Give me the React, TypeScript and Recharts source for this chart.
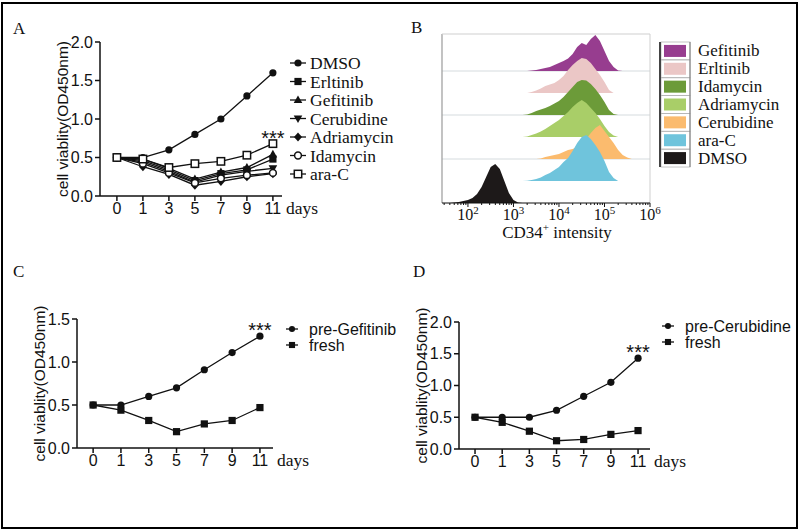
import React from 'react';
import {
  LineChart, Line, XAxis, YAxis, Legend, LabelList, ComposedChart, Area,
  CartesianGrid, ReferenceLine,
} from 'recharts';

const SANS = '"Liberation Sans", Arial, sans-serif';
const SERIF = '"Liberation Serif", "Times New Roman", serif';
const INK = '#111';

// ---------- shared x categories ----------
const DAYS = ['0', '1', '3', '5', '7', '9', '11'];
const DAY_IDX = [0, 1, 2, 3, 4, 5, 6];

// ---------- Panel A ----------
const A_DMSO = [0.5, 0.5, 0.6, 0.8, 1.0, 1.3, 1.6];
const A_ERL = [0.5, 0.46, 0.34, 0.2, 0.29, 0.34, 0.48];
const A_GEF = [0.5, 0.48, 0.36, 0.22, 0.31, 0.37, 0.54];
const A_CER = [0.5, 0.44, 0.32, 0.18, 0.27, 0.32, 0.36];
const A_ADR = [0.5, 0.38, 0.28, 0.14, 0.19, 0.25, 0.29];
const A_IDA = [0.5, 0.42, 0.3, 0.17, 0.23, 0.27, 0.3];
const A_ARAC = [0.5, 0.48, 0.37, 0.42, 0.45, 0.53, 0.68];
const A_NAMES = ['DMSO', 'Erltinib', 'Gefitinib', 'Cerubidine', 'Adriamycin', 'Idamycin', 'ara-C'];
const A_VALUES = [A_DMSO, A_ERL, A_GEF, A_CER, A_ADR, A_IDA, A_ARAC];
const A_SHAPES = ['circle', 'square', 'triangle', 'triangleDown', 'diamond', 'circleOpen', 'squareOpen'];
const A_YTICKS = [0, 0.5, 1, 1.5, 2];

// ---------- Panel C ----------
const C_PRE = [0.5, 0.5, 0.6, 0.7, 0.91, 1.11, 1.3];
const C_FRESH = [0.5, 0.44, 0.32, 0.19, 0.28, 0.32, 0.47];
const C_NAMES = ['pre-Gefitinib', 'fresh'];
const C_YTICKS = [0, 0.5, 1, 1.5];

// ---------- Panel D ----------
const D_PRE = [0.5, 0.5, 0.5, 0.61, 0.83, 1.05, 1.43];
const D_FRESH = [0.5, 0.42, 0.28, 0.13, 0.15, 0.23, 0.29];
const D_NAMES = ['pre-Cerubidine', 'fresh'];
const D_YTICKS = [0, 0.5, 1, 1.5, 2];

// ---------- Panel B (flow histograms, log10 intensity) ----------
const LOG_X = [1.6, 1.7, 1.8, 1.9, 2.0, 2.1, 2.2, 2.3, 2.4, 2.5, 2.6, 2.7, 2.8, 2.9, 3.0, 3.1, 3.2, 3.3, 3.4, 3.5,
  3.6, 3.7, 3.8, 3.9, 4.0, 4.1, 4.2, 4.3, 4.4, 4.5, 4.6, 4.7, 4.8, 4.9, 5.0, 5.1, 5.2, 5.3, 5.4, 5.5, 5.6];
const H_DMSO = [0, 0.5, 1, 2, 3, 5, 9, 16, 26, 36, 39, 34, 22, 10, 3, 0.5, 0, 0, 0, 0,
  0, 0, 0, 0, 0, 0, 0, 0, 0, 0, 0, 0, 0, 0, 0, 0, 0, 0, 0, 0, 0];
const H_ARAC = [0, 0, 0, 0, 0, 0, 0, 0, 0, 0, 0, 0, 0, 0, 0, 0, 0, 0.3, 1, 2,
  3.5, 6, 8, 11, 14, 19, 23, 30, 38, 44, 46, 42, 36, 29, 20, 9, 3, 0, 0, 0, 0];
const H_CER = [0, 0, 0, 0, 0, 0, 0, 0, 0, 0, 0, 0, 0, 0, 0, 0, 0, 0, 0, 0,
  0.5, 2, 3, 4, 5, 7, 9, 10, 12, 14, 20, 26, 31, 34, 28, 22, 16, 9, 4, 1.5, 0];
const H_ADR = [0, 0, 0, 0, 0, 0, 0, 0, 0, 0, 0, 0, 0, 0, 0, 0, 0, 0.5, 2, 3.5,
  5.5, 8, 11, 14, 17, 21, 25, 30, 34, 37, 34, 29, 24, 18, 11, 5, 1.5, 0, 0, 0, 0];
const H_IDA = [0, 0, 0, 0, 0, 0, 0, 0, 0, 0, 0, 0, 0, 0, 0, 0, 0, 0.5, 2, 4,
  5.5, 7, 9, 11.5, 14, 18, 23, 28, 33, 35, 34.5, 31, 26, 20, 13, 5, 1, 0, 0, 0, 0];
const H_ERL = [0, 0, 0, 0, 0, 0, 0, 0, 0, 0, 0, 0, 0, 0, 0, 0, 0, 0, 1, 2.5,
  4.5, 7, 8.5, 10, 13, 17, 23, 28, 32, 35, 34, 30, 24, 18, 11, 3, 0, 0, 0, 0, 0];
const H_GEF = [0, 0, 0, 0, 0, 0, 0, 0, 0, 0, 0, 0, 0, 0, 0, 0, 0, 0, 0.5, 1,
  2, 3, 4, 6, 8, 10, 12.5, 17, 24, 28, 26, 32, 36, 30, 20, 10, 4, 0.5, 0, 0, 0];
// bottom -> top
const B_NAMES = ['DMSO', 'ara-C', 'Cerubidine', 'Adriamycin', 'Idamycin', 'Erltinib', 'Gefitinib'];
const B_HEIGHTS = [H_DMSO, H_ARAC, H_CER, H_ADR, H_IDA, H_ERL, H_GEF];
const B_COLORS = ['#1d1919', '#6fc4dc', '#fbbb6e', '#a9ce68', '#6c9b39', '#ebc7c6', '#973d8f'];

const RIDGE_STEP = 22;
const B_TOP = 169;
const B_XMIN = 1.43;
const B_XMAX = 6;

// ---------- data tables ----------
const aData = DAY_IDX.map((i) => {
  const row: any = { idx: i };
  A_NAMES.forEach((n, k) => { row[n] = A_VALUES[k][i]; });
  return row;
});
const cData = DAY_IDX.map((i) => ({ idx: i, [C_NAMES[0]]: C_PRE[i], [C_NAMES[1]]: C_FRESH[i] }));
const dData = DAY_IDX.map((i) => ({ idx: i, [D_NAMES[0]]: D_PRE[i], [D_NAMES[1]]: D_FRESH[i] }));
const ridgeData = LOG_X.map((x, i) => {
  const row: any = { x };
  B_NAMES.forEach((n, k) => { row[n] = [k * RIDGE_STEP, k * RIDGE_STEP + B_HEIGHTS[k][i]]; });
  return row;
});
const RIDGE_BASES = B_NAMES.slice(1).map((_, k) => (k + 1) * RIDGE_STEP);
const B_TICKS: number[] = [];
for (let d = 1; d <= 5; d++) {
  for (let k = 1; k <= 9; k++) {
    const v = d + Math.log10(k);
    if (v >= B_XMIN && v <= B_XMAX) B_TICKS.push(v);
  }
}
B_TICKS.push(6);

// ---------- markers ----------
function marker(shape: string, cx: number, cy: number, key?: any, s = 1) {
  switch (shape) {
    case 'circle':
      return <circle key={key} cx={cx} cy={cy} r={3.6 * s} fill={INK} />;
    case 'square':
      return <rect key={key} x={cx - 3.6 * s} y={cy - 3.6 * s} width={7.2 * s} height={7.2 * s} fill={INK} />;
    case 'triangle':
      return <polygon key={key} points={`${cx},${cy - 4.6 * s} ${cx + 4.3 * s},${cy + 3 * s} ${cx - 4.3 * s},${cy + 3 * s}`} fill={INK} />;
    case 'triangleDown':
      return <polygon key={key} points={`${cx},${cy + 4.6 * s} ${cx + 4.3 * s},${cy - 3 * s} ${cx - 4.3 * s},${cy - 3 * s}`} fill={INK} />;
    case 'diamond':
      return <polygon key={key} points={`${cx},${cy - 4.6 * s} ${cx + 4 * s},${cy} ${cx},${cy + 4.6 * s} ${cx - 4 * s},${cy}`} fill={INK} />;
    case 'circleOpen':
      return <circle key={key} cx={cx} cy={cy} r={3.4 * s} fill="#fff" stroke={INK} strokeWidth={1.5} />;
    case 'squareOpen':
      return <rect key={key} x={cx - 3.7 * s} y={cy - 3.7 * s} width={7.4 * s} height={7.4 * s} fill="#fff" stroke={INK} strokeWidth={1.5} />;
    default:
      return null;
  }
}
const dotOf = (shape: string) => (p: any) => marker(shape, p.cx, p.cy, `${shape}-${p.index}`);

// ---------- axis helpers ----------
const tickStyle = { fill: INK, fontSize: 16, fontFamily: SANS };
const axisLineStyle = { stroke: INK, strokeWidth: 1.5 };
const tickLineStyle = { stroke: INK, strokeWidth: 1.5 };

const yLabel = (props: any) => {
  const vb = props.viewBox || {};
  const x = vb.x + vb.width - 38;
  const y = vb.y + vb.height / 2;
  return (
    <text x={x} y={y} transform={`rotate(-90 ${x} ${y})`} textAnchor="middle" dominantBaseline="central"
      fontFamily={SANS} fontSize={15.5} fill={INK}>cell viablity(OD450nm)</text>
  );
};
const daysLabel = (props: any) => {
  const vb = props.viewBox || {};
  return (
    <text x={vb.x + vb.width + 4} y={vb.y + 18} fontFamily={SERIF} fontSize={17.5} fill={INK}>days</text>
  );
};
const starContent = (p: any) => {
  if (p.index !== DAY_IDX.length - 1) return null;
  const vb = p.viewBox || {};
  const x = vb.x ?? p.x;
  const y = vb.y ?? p.y;
  return (
    <text key="stars" x={x} y={y + 1} textAnchor="middle" fontFamily={SANS} fontSize={20} fill={INK}>***</text>
  );
};

// ---------- legends ----------
const legendA = () => (
  <svg width={120} height={140} style={{ display: 'block' }}>
    {A_NAMES.map((name, i) => {
      const cy = 11 + 18.5 * i;
      return (
        <g key={name}>
          <line x1={2} x2={18} y1={cy} y2={cy} stroke={INK} strokeWidth={1.3} />
          {marker(A_SHAPES[i], 10, cy)}
          <text x={22} y={cy + 6} fontFamily={SERIF} fontSize={17.5} fill={INK}>{name}</text>
        </g>
      );
    })}
  </svg>
);
const legendTwo = (names: string[], spacing: number) => () => {
  const shapes = ['circle', 'square'];
  return (
    <svg width={150} height={40} style={{ display: 'block' }}>
      {names.map((name, i) => {
        const cy = 11 + spacing * i;
        return (
          <g key={name}>
            <line x1={6} x2={18} y1={cy} y2={cy} stroke={INK} strokeWidth={1.3} />
            {marker(shapes[i], 12, cy, undefined, 0.85)}
            <text x={29} y={cy + 5.5} fontFamily={SANS} fontSize={16} fill={INK}>{name}</text>
          </g>
        );
      })}
    </svg>
  );
};
const legendB = () => {
  const rowH = 17.86;
  const names = [...B_NAMES].reverse();
  const colors = [...B_COLORS].reverse();
  const n = names.length;
  return (
    <svg width={140} height={132} style={{ display: 'block' }}>
      {names.map((name, i) => {
        const top = 2 + rowH * i;
        const cy = top + rowH / 2;
        return (
          <g key={name}>
            <rect x={4} y={top} width={29} height={rowH} fill="none" stroke="#b5b5b5" strokeWidth={0.8} />
            <rect x={7} y={cy - 6} width={22} height={12} fill={colors[i]} />
            <text x={41} y={cy + 5.5} fontFamily={SERIF} fontSize={17} fill={INK}>{name}</text>
          </g>
        );
      })}
      <line x1={3} x2={3} y1={2} y2={2 + rowH * n} stroke="#444" strokeWidth={2} />
      <line x1={33} x2={33} y1={2} y2={2 + rowH * n} stroke="#777" strokeWidth={1} />
    </svg>
  );
};

// ---------- panel B axis ----------
const BTick = (props: any) => {
  const { x, y, payload } = props;
  const v = payload.value;
  const major = Math.abs(v - Math.round(v)) < 1e-6;
  return (
    <g>
      <line x1={x} x2={x} y1={y} y2={y + (major ? 4 : 2)} stroke={INK} strokeWidth={1} />
      {major && (
        <text x={x} y={y + 17} textAnchor="middle" fontFamily={SERIF} fontSize={16} fill={INK}>
          10<tspan dy={-6} fontSize={11}>{Math.round(v)}</tspan>
        </text>
      )}
    </g>
  );
};
const bXLabel = (props: any) => {
  const vb = props.viewBox || {};
  return (
    <text x={vb.x + vb.width / 2 + 11} y={vb.y + 35} textAnchor="middle" fontFamily={SERIF} fontSize={17} fill={INK}>
      CD34<tspan dy={-7} fontSize={11}>+</tspan><tspan dy={7}> intensity</tspan>
    </text>
  );
};

// ---------- charts ----------
function PanelA() {
  return (
    <LineChart width={400} height={260} data={aData} margin={{ top: 42, right: 118, bottom: 40, left: 40 }}>
      <XAxis type="number" dataKey="idx" domain={[-0.65, 6.35]} allowDataOverflow ticks={DAY_IDX} interval={0}
        tickFormatter={(i: number) => DAYS[i]} height={24} tick={tickStyle} tickSize={5}
        axisLine={axisLineStyle} tickLine={tickLineStyle} label={{ content: daysLabel }} />
      <YAxis type="number" domain={[0, 2]} ticks={A_YTICKS} interval={0} width={60}
        tickFormatter={(v: number) => v.toFixed(1)} tick={tickStyle} tickSize={5}
        axisLine={axisLineStyle} tickLine={tickLineStyle} label={{ content: yLabel }} />
      {A_NAMES.map((n, k) => (
        <Line key={n} dataKey={n} name={n} type="linear" stroke={INK} strokeWidth={1.3}
          dot={dotOf(A_SHAPES[k])} activeDot={false} isAnimationActive={false}>
          {n === 'ara-C' && <LabelList dataKey={n} content={starContent} />}
        </Line>
      ))}
      <Legend layout="vertical" align="center" verticalAlign="middle" content={legendA}
        wrapperStyle={{ position: 'absolute', left: 288, top: 52, width: 120, height: 140 }} />
    </LineChart>
  );
}

function PanelTwo({ data, names, yMax, yTicks, xDomain, margin, yWidth, legendPos, spacing }: any) {
  return (
    <LineChart width={400} height={240} data={data} margin={margin}>
      <XAxis type="number" dataKey="idx" domain={xDomain} allowDataOverflow ticks={DAY_IDX} interval={0}
        tickFormatter={(i: number) => DAYS[i]} height={24} tick={tickStyle} tickSize={5}
        axisLine={axisLineStyle} tickLine={tickLineStyle} label={{ content: daysLabel }} />
      <YAxis type="number" domain={[0, yMax]} ticks={yTicks} interval={0} width={yWidth}
        tickFormatter={(v: number) => v.toFixed(1)} tick={tickStyle} tickSize={5}
        axisLine={axisLineStyle} tickLine={tickLineStyle} label={{ content: yLabel }} />
      <Line dataKey={names[0]} name={names[0]} type="linear" stroke={INK} strokeWidth={1.3}
        dot={dotOf('circle')} activeDot={false} isAnimationActive={false}>
        <LabelList dataKey={names[0]} content={starContent} />
      </Line>
      <Line dataKey={names[1]} name={names[1]} type="linear" stroke={INK} strokeWidth={1.3}
        dot={dotOf('square')} activeDot={false} isAnimationActive={false} />
      <Legend layout="vertical" align="center" verticalAlign="middle" content={legendTwo(names, spacing)}
        wrapperStyle={{ position: 'absolute', left: legendPos[0], top: legendPos[1], width: 150, height: 40 }} />
    </LineChart>
  );
}

function PanelB() {
  const order = [...B_NAMES].reverse(); // draw top ridges first so lower ones sit in front
  return (
    <ComposedChart width={400} height={250} data={ridgeData} margin={{ top: 34, right: 150, bottom: 2, left: 42 }}>
      <CartesianGrid vertical={false} horizontalValues={RIDGE_BASES} stroke="#d5dbde" strokeWidth={1} />
      <XAxis type="number" dataKey="x" domain={[B_XMIN, B_XMAX]} allowDataOverflow ticks={B_TICKS} interval={0}
        tick={(p: any) => <BTick {...p} />} tickLine={false} tickSize={0} tickMargin={0} height={45}
        axisLine={{ stroke: INK, strokeWidth: 1.2 }} label={{ content: bXLabel }} />
      <YAxis hide type="number" domain={[0, B_TOP]} ticks={RIDGE_BASES} allowDataOverflow />
      {order.map((n) => {
        const k = B_NAMES.indexOf(n);
        return (
          <Area key={n} dataKey={n} name={n} type="linear" fill={B_COLORS[k]} fillOpacity={1} stroke="none"
            dot={false} activeDot={false} isAnimationActive={false} legendType="rect" />
        );
      })}
      <ReferenceLine x={B_XMIN} stroke="#9a9a9a" strokeWidth={1.2} />
      <ReferenceLine y={B_TOP} stroke="#cfcfcf" strokeWidth={1} />
      <ReferenceLine x={B_XMAX} stroke="#cfcfcf" strokeWidth={1} />
      <Legend layout="vertical" align="center" verticalAlign="middle" content={legendB}
        wrapperStyle={{ position: 'absolute', left: 257, top: 40, width: 140, height: 132 }} />
    </ComposedChart>
  );
}

export default function App() {
  const abs = (left: number, top: number): React.CSSProperties => ({ position: 'absolute', left, top });
  return (
    <div style={{ position: 'absolute', left: 0, top: 0, width: 800, height: 532, background: '#fff', overflow: 'hidden' }}>
      <div style={abs(0, 0)}><PanelA /></div>
      <div style={abs(400, 0)}><PanelB /></div>
      <div style={abs(0, 280)}>
        <PanelTwo data={cData} names={C_NAMES} yMax={1.5} yTicks={C_YTICKS} xDomain={[-0.58, 6.47]}
          margin={{ top: 39, right: 127, bottom: 48, left: 17 }} yWidth={60} legendPos={[280, 38]} spacing={16} />
      </div>
      <div style={abs(400, 280)}>
        <PanelTwo data={dData} names={D_NAMES} yMax={2} yTicks={D_YTICKS} xDomain={[-0.59, 6.44]}
          margin={{ top: 42, right: 150, bottom: 47, left: 9 }} yWidth={50} legendPos={[256, 35]} spacing={16} />
      </div>
      <svg width={800} height={532} style={{ position: 'absolute', left: 0, top: 0, pointerEvents: 'none' }}>
        <rect x={2} y={3} width={795} height={525} fill="none" stroke="#000" strokeWidth={2} />
        <text x={13} y={34} fontFamily={SERIF} fontSize={17} fill={INK}>A</text>
        <text x={411} y={33} fontFamily={SERIF} fontSize={17} fill={INK}>B</text>
        <text x={13} y={277} fontFamily={SERIF} fontSize={17} fill={INK}>C</text>
        <text x={413} y={277} fontFamily={SERIF} fontSize={17} fill={INK}>D</text>
      </svg>
    </div>
  );
}
